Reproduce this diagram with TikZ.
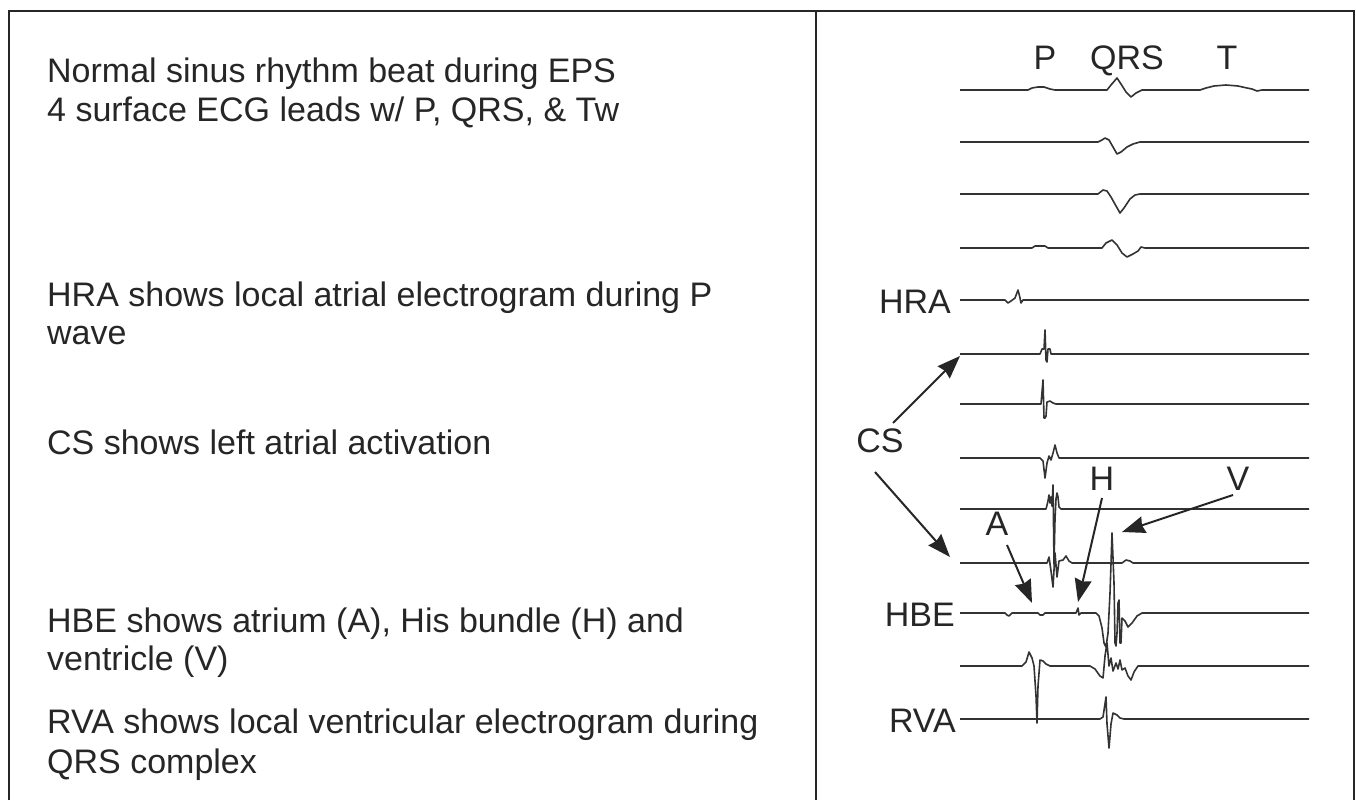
\documentclass[tikz,border=0pt]{standalone}
\usepackage{fontspec}
\setmainfont{Liberation Sans}
\usetikzlibrary{arrows.meta}
\begin{document}
\begin{tikzpicture}[x=1pt,y=-1pt,
  frame/.style={line width=2.5pt, draw=black!85},
  trace/.style={line width=1.6pt, draw=black!80, line join=round},
  arr/.style={line width=2pt, draw=black!85, -{Stealth[length=23pt,width=17pt,inset=2pt]}},
  txt/.style={font=\fontsize{34}{40}\selectfont, inner sep=0pt, anchor=base west, text=black!85},
  lab/.style={font=\fontsize{34}{40}\selectfont, inner sep=0pt, anchor=base, text=black!85}]
\useasboundingbox (0,0) rectangle (1356,800);
\fill[white] (0,0) rectangle (1356,800);
% frame
\draw[frame] (9,800) -- (9,11) -- (1354,11) -- (1354,800);
\draw[frame] (816,11) -- (816,800);
% left texts
\node[txt] (t1a) at (47,82) {Normal sinus rhythm beat during EPS};
\node[txt] (t1b) at (47,121) {4 surface ECG leads w/ P, QRS, \& Tw};
\node[txt] (t2a) at (47,306) {HRA shows local atrial electrogram during P};
\node[txt] (t2b) at (47,344) {wave};
\node[txt] (t3)  at (47,454) {CS shows left atrial activation};
\node[txt] (t4a) at (47,632) {HBE shows atrium (A), His bundle (H) and};
\node[txt] (t4b) at (47,670) {ventricle (V)};
\node[txt] (t5a) at (47,733) {RVA shows local ventricular electrogram during};
\node[txt] (t5b) at (47,773) {QRS complex};
% wave labels
\node[lab] (lp) at (1045,70) {P};
\node[lab] (lqrs) at (1127,70) {QRS};
\node[lab] (lt) at (1227,70) {T};
\node[lab,anchor=base east] (lhra) at (951,313) {HRA};
\node[lab,anchor=base east] (lhbe) at (955,626) {HBE};
\node[lab,anchor=base east] (lrva) at (956,732) {RVA};
\node[lab] (lcs) at (880,452) {CS};
\node[lab] (la) at (997,535) {A};
\node[lab] (lh) at (1102,490) {H};
\node[lab] (lv) at (1238,490) {V};
% traces
\draw[trace,shift={(0,90)}] plot coordinates {(960,0)(1028,0)(1032,-2)(1038,-3)(1044,-3)(1050,-1)(1055,0)(1107,0)(1111,-5)(1117,-12)(1121,-6)(1126,2)(1131,7)(1136,3)(1142,0)(1200,0)(1206,-2)(1214,-4)(1226,-5)(1238,-4)(1247,-2)(1252,-1)(1257,1)(1262,0)(1309,0)};
\draw[trace,shift={(0,142)}] plot coordinates {(960,0)(1098,0)(1102,-2)(1105,-4)(1109,-2)(1113,5)(1117,12)(1121,10)(1127,5)(1133,2)(1140,0)(1309,0)};
\draw[trace,shift={(0,194)}] plot coordinates {(960,0)(1098,0)(1103,-4)(1107,-3)(1111,3)(1116,12)(1120,19)(1124,14)(1130,5)(1135,1)(1140,0)(1309,0)};
\draw[trace,shift={(0,248)}] plot coordinates {(960,0)(1032,0)(1035,-2)(1045,-2)(1048,0)(1102,0)(1106,-5)(1112,-8)(1117,-3)(1122,5)(1127,9)(1133,6)(1138,3)(1141,-1)(1145,0)(1309,0)};
\draw[trace,shift={(0,300)}] plot coordinates {(960,0)(1005,0)(1008,3)(1011,1)(1015,-2)(1018,-10)(1020,-2)(1021,3)(1023,0)(1309,0)};
\draw[trace,shift={(0,354)}] plot coordinates {(960,0)(1040,0)(1042,-5)(1044,-5)(1045,-24)(1046,6)(1047,8)(1048,-5)(1050,-5)(1051,0)(1053,0)(1309,0)};
\draw[trace,shift={(0,404)}] plot coordinates {(960,0)(1041,0)(1043,-24)(1044,14)(1045,14)(1046,12)(1047,-2)(1050,-3)(1053,-1)(1056,0)(1309,0)};
\draw[trace,shift={(0,458)}] plot coordinates {(960,0)(1040,0)(1043,3)(1045,20)(1047,5)(1049,-2)(1051,2)(1053,-5)(1055,-13)(1057,-5)(1059,0)(1309,0)};
\draw[trace,shift={(0,509)}] plot coordinates {(960,0)(1046,0)(1048,-8)(1049,-14)(1050,-6)(1051,-12)(1052,-3)(1053,-24)(1054,55)(1055,10)(1056,-10)(1057,-16)(1058,-12)(1059,-2)(1061,0)(1309,0)};
\draw[trace,shift={(0,563)}] plot coordinates {(960,0)(1047,0)(1049,-6)(1051,8)(1053,24)(1055,-10)(1057,14)(1059,-2)(1063,-3)(1066,-7)(1069,-2)(1072,0)(1122,0)(1126,-3)(1130,-2)(1133,0)(1309,0)};
\draw[trace,shift={(0,613)}] plot coordinates {(960,0)(1005,0)(1007,2)(1009,3)(1012,0)(1038,0)(1040,2)(1043,2)(1045,0)(1076,0)(1078,-5)(1079,2)(1081,0)(1096,0)(1099,3)(1102,15)(1104,30)(1106,34)(1108,20)(1110,-20)(1112,-80)(1114,-30)(1115,30)(1116,33)(1117,20)(1118,-10)(1119,-13)(1120,30)(1121,30)(1122,5)(1125,8)(1128,14)(1132,10)(1137,3)(1142,0)(1309,0)};
\draw[trace,shift={(0,666)}] plot coordinates {(960,0)(1022,0)(1026,-4)(1029,-14)(1032,-8)(1034,0)(1036,30)(1037,57)(1038,20)(1040,-6)(1043,-5)(1046,-2)(1050,0)(1090,0)(1095,3)(1100,10)(1103,12)(1105,-10)(1107,-23)(1109,0)(1111,-8)(1113,5)(1116,-3)(1118,3)(1120,-6)(1122,4)(1125,2)(1128,10)(1131,14)(1134,6)(1138,0)(1309,0)};
\draw[trace,shift={(0,719)}] plot coordinates {(960,0)(1100,0)(1103,-2)(1106,-22)(1107,5)(1109,29)(1111,5)(1113,-6)(1117,-4)(1120,-1)(1124,0)(1309,0)};
% arrow end points
\coordinate (cs1t) at (893,423);
\coordinate (cs1h) at (960,356);
\coordinate (cs2t) at (875,472);
\coordinate (cs2h) at (950,557);
\coordinate (at) at (1007,545);
\coordinate (ah) at (1032,603);
\coordinate (ht) at (1102,498);
\coordinate (hh) at (1078,602);
\coordinate (vt) at (1233,495);
\coordinate (vh) at (1122,532);
\draw[arr] (cs1t) -- (cs1h);
\draw[arr] (cs2t) -- (cs2h);
\draw[arr] (at) -- (ah);
\draw[arr] (ht) -- (hh);
\draw[arr] (vt) -- (vh);
\end{tikzpicture}
\end{document}
